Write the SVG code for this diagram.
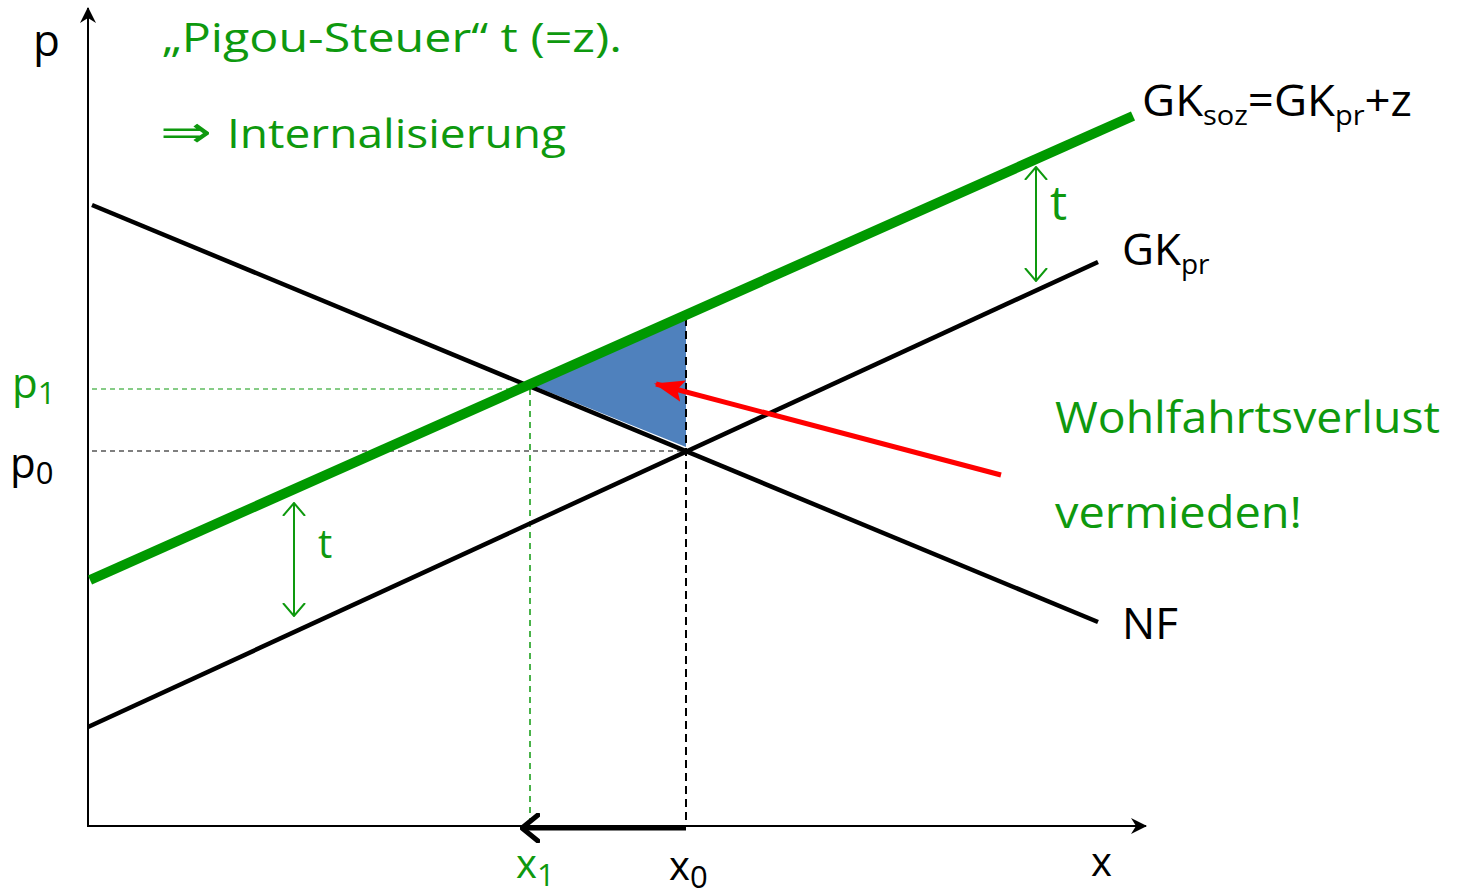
<svg xmlns="http://www.w3.org/2000/svg" width="1462" height="895" viewBox="0 0 1462 895">
<style>
text{font-family:"Open Sans","Noto Sans","DejaVu Sans",sans-serif}
.g{fill:#0E990E}
.k{fill:#000}
.big{font-size:44px}
.sub{font-size:28px}
.sub2{font-size:31px}
</style>
<defs>
<marker id="ax" markerWidth="16" markerHeight="16" refX="15" refY="8" orient="auto" markerUnits="userSpaceOnUse" viewBox="0 0 16 16">
<path d="M0,0 L16,8 L0,16 L5,8 Z" fill="#000"/>
</marker>
<marker id="gt" markerWidth="14" markerHeight="24" refX="13" refY="12" orient="auto-start-reverse" markerUnits="userSpaceOnUse" viewBox="0 0 14 24">
<path d="M0,1 L13,12 L0,23" fill="none" stroke="#0E990E" stroke-width="2"/>
</marker>
<marker id="ra" markerWidth="30" markerHeight="22" refX="28" refY="11" orient="auto" markerUnits="userSpaceOnUse" viewBox="0 0 30 22">
<path d="M0,0 L30,11 L0,22 L6,11 Z" fill="#FF0000"/>
</marker>
<marker id="ba" markerWidth="20" markerHeight="30" refX="18" refY="15" orient="auto" markerUnits="userSpaceOnUse" viewBox="0 0 20 30">
<path d="M2,2 L18,15 L2,28" fill="none" stroke="#000" stroke-width="5" stroke-linecap="round" stroke-linejoin="round"/>
</marker>
</defs>
<rect width="1462" height="895" fill="#fff"/>
<g id="area">
<polygon points="534,386 686,317 686,447" fill="#4F81BD"/>
</g>
<g id="connectors">
<line x1="88" y1="827" x2="88" y2="8" stroke="#000" stroke-width="2" marker-end="url(#ax)"/>
<line x1="88" y1="826" x2="1146" y2="826" stroke="#000" stroke-width="2" marker-end="url(#ax)"/>
<line x1="92" y1="389" x2="530" y2="389" stroke="#0E990E" stroke-width="1.2" stroke-dasharray="5,4"/>
<line x1="530" y1="389" x2="530" y2="826" stroke="#0E990E" stroke-width="1.5" stroke-dasharray="6,5"/>
<line x1="92" y1="451" x2="686" y2="451" stroke="#000" stroke-width="1.2" stroke-dasharray="5,4"/>
<line x1="686" y1="318" x2="686" y2="826" stroke="#000" stroke-width="2" stroke-dasharray="8,5"/>
<line x1="92" y1="205" x2="1098" y2="622" stroke="#000" stroke-width="4.5"/>
<line x1="88" y1="727" x2="1098" y2="262" stroke="#000" stroke-width="4.5"/>
<line x1="90" y1="580" x2="1133" y2="116" stroke="#009900" stroke-width="10"/>
<line x1="1036" y1="167" x2="1036" y2="281" stroke="#0E990E" stroke-width="2" marker-start="url(#gt)" marker-end="url(#gt)"/>
<line x1="294" y1="503" x2="294" y2="616" stroke="#0E990E" stroke-width="2" marker-start="url(#gt)" marker-end="url(#gt)"/>
<line x1="1001" y1="475" x2="656" y2="384" stroke="#FF0000" stroke-width="5" marker-end="url(#ra)"/>
<line x1="686" y1="828" x2="522" y2="828" stroke="#000" stroke-width="5" marker-end="url(#ba)"/>
</g>
<g id="labels">
<text x="33" y="56" class="k big">p</text>
<text x="162" y="52" class="g" font-size="40" textLength="460" lengthAdjust="spacingAndGlyphs">„Pigou-Steuer“ t (=z).</text>
<text x="160" y="147" class="g" font-size="44" font-family="DejaVu Sans" textLength="52" lengthAdjust="spacingAndGlyphs">⇒</text>
<text x="227" y="148" class="g" font-size="40" textLength="339" lengthAdjust="spacingAndGlyphs">Internalisierung</text>
<text x="1142" y="116" class="k big" textLength="270" lengthAdjust="spacingAndGlyphs">GK<tspan class="sub" dy="9">soz</tspan><tspan dy="-9">=GK</tspan><tspan class="sub" dy="9">pr</tspan><tspan dy="-9">+z</tspan></text>
<text x="1050" y="220" class="g" font-size="48">t</text>
<text x="1122" y="265" class="k big">GK<tspan class="sub" dy="9">pr</tspan></text>
<text x="1055" y="433" class="g big" textLength="385" lengthAdjust="spacingAndGlyphs">Wohlfahrtsverlust</text>
<text x="1055" y="528" class="g big" textLength="247" lengthAdjust="spacingAndGlyphs">vermieden!</text>
<text x="1122" y="639" class="k big">NF</text>
<text x="318" y="558" class="g" font-size="40">t</text>
<text x="12" y="398" class="g" font-size="42">p<tspan class="sub2" dy="6">1</tspan></text>
<text x="10" y="478" class="k" font-size="42">p<tspan class="sub2" dy="6">0</tspan></text>
<text x="516" y="878" class="g" font-size="40">x<tspan class="sub2" dy="8">1</tspan></text>
<text x="669" y="880" class="k" font-size="40">x<tspan class="sub2" dy="8">0</tspan></text>
<text x="1091" y="876" class="k" font-size="40">x</text>
</g>
</svg>
